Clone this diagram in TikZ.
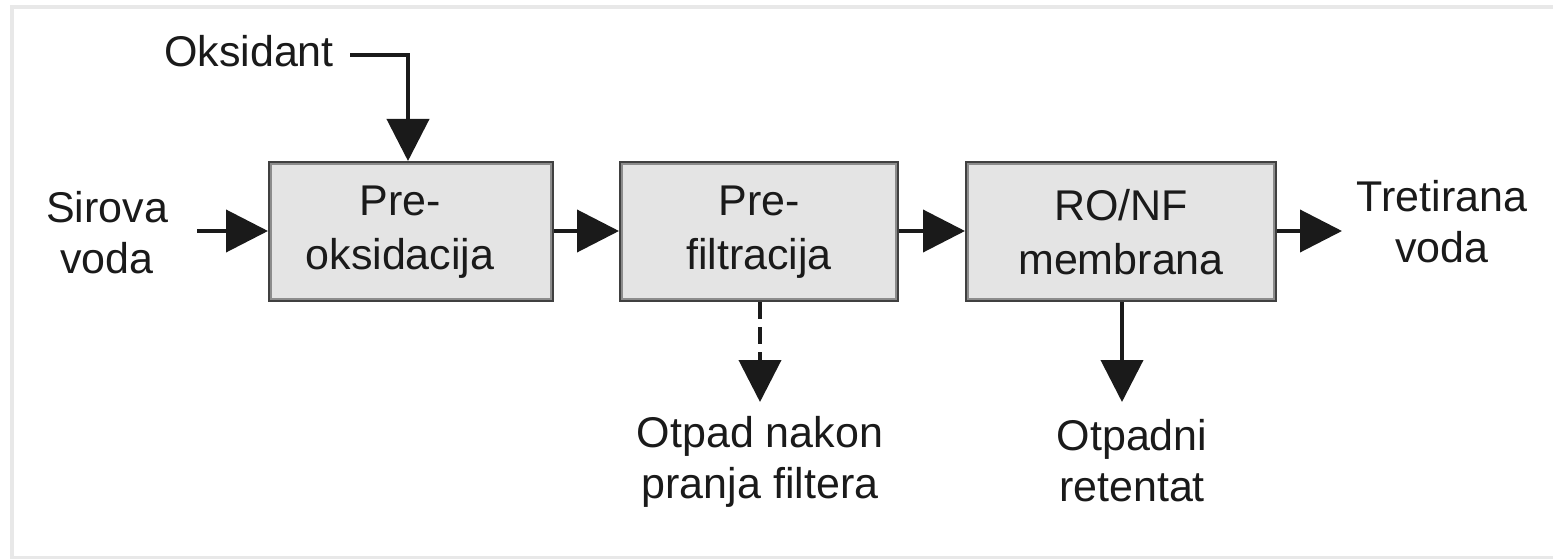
\documentclass[tikz,border=0pt]{standalone}
\usepackage{fontspec}
\setmainfont{Liberation Sans}
\usetikzlibrary{arrows.meta}
\definecolor{framegray}{RGB}{232,232,232}
\definecolor{boxfill}{RGB}{228,228,228}
\definecolor{boxedge}{RGB}{64,64,64}
\definecolor{boxinner}{RGB}{140,140,140}
\definecolor{ink}{RGB}{26,26,26}
\begin{document}
\begin{tikzpicture}[x=1pt,y=-1pt,
  font=\fontsize{43}{51}\selectfont,
  stage/.style={draw=boxedge,fill=boxfill,line width=4pt,minimum height=137pt,inner sep=0pt},
  inset/.style={draw=boxinner,line width=1.5pt},
  label/.style={align=center,inner sep=0pt,text=ink},
  stagetext/.style={label,font=\fontsize{43}{54}\selectfont},
  flow/.style={draw=ink,line width=4pt,-{Triangle[length=42pt,width=42pt]}},
  plain/.style={draw=ink,line width=4pt}]
\useasboundingbox (0,0) rectangle (1553,559);
\fill[white] (0,0) rectangle (1553,559);
\draw[framegray,line width=4pt] (12,7) rectangle (1565,557.5);

% process stages
\node[stage,minimum width=282pt] (b1) at (411,231.5) {};
\node[stage,minimum width=276pt] (b2) at (759,231.5) {};
\node[stage,minimum width=308pt] (b3) at (1121,231.5) {};
\foreach \b in {b1,b2,b3}
  \draw[inset] ([shift={(3pt,-3pt)}]\b.north west) rectangle ([shift={(-3pt,3pt)}]\b.south east);

\node[stagetext] (t1) at (400,232) {Pre-\\oksidacija};
\node[stagetext] (t2) at (759,232) {Pre-\\filtracija};
\node[stagetext] (t3) at (1121,232) {RO/NF\\membrana};

% inputs and outputs
\node[label] (oks) at (249,51) {Oksidant};
\node[label] (raw) at (107,233) {Sirova\\voda};
\node[label] (out) at (1442,222) {Tretirana\\voda};
\node[label] (wash) at (760,462) {Otpad nakon\\pranja filtera};
\node[label] (ret) at (1132,461) {Otpadni\\retentat};

\coordinate (okstart) at (350,55);
\coordinate (rawend) at (197,231);
\coordinate (outend) at (1342,231);
\coordinate (washend) at (760,402);
\coordinate (retend) at (1122,402);

% connectors
\draw[flow] (okstart) -| ([xshift=-3pt]b1.north);
\draw[flow] (rawend) -- (b1.west |- rawend);
\draw[flow] (b1.east |- rawend) -- (b2.west |- rawend);
\draw[flow] (b2.east |- rawend) -- (b3.west |- rawend);
\draw[flow] (b3.east |- rawend) -- (outend);
\draw[flow,dash pattern=on 17pt off 8pt] (b2.south -| washend) -- (washend);
\draw[flow] (b3.south -| retend) -- (retend);
\end{tikzpicture}
\end{document}
